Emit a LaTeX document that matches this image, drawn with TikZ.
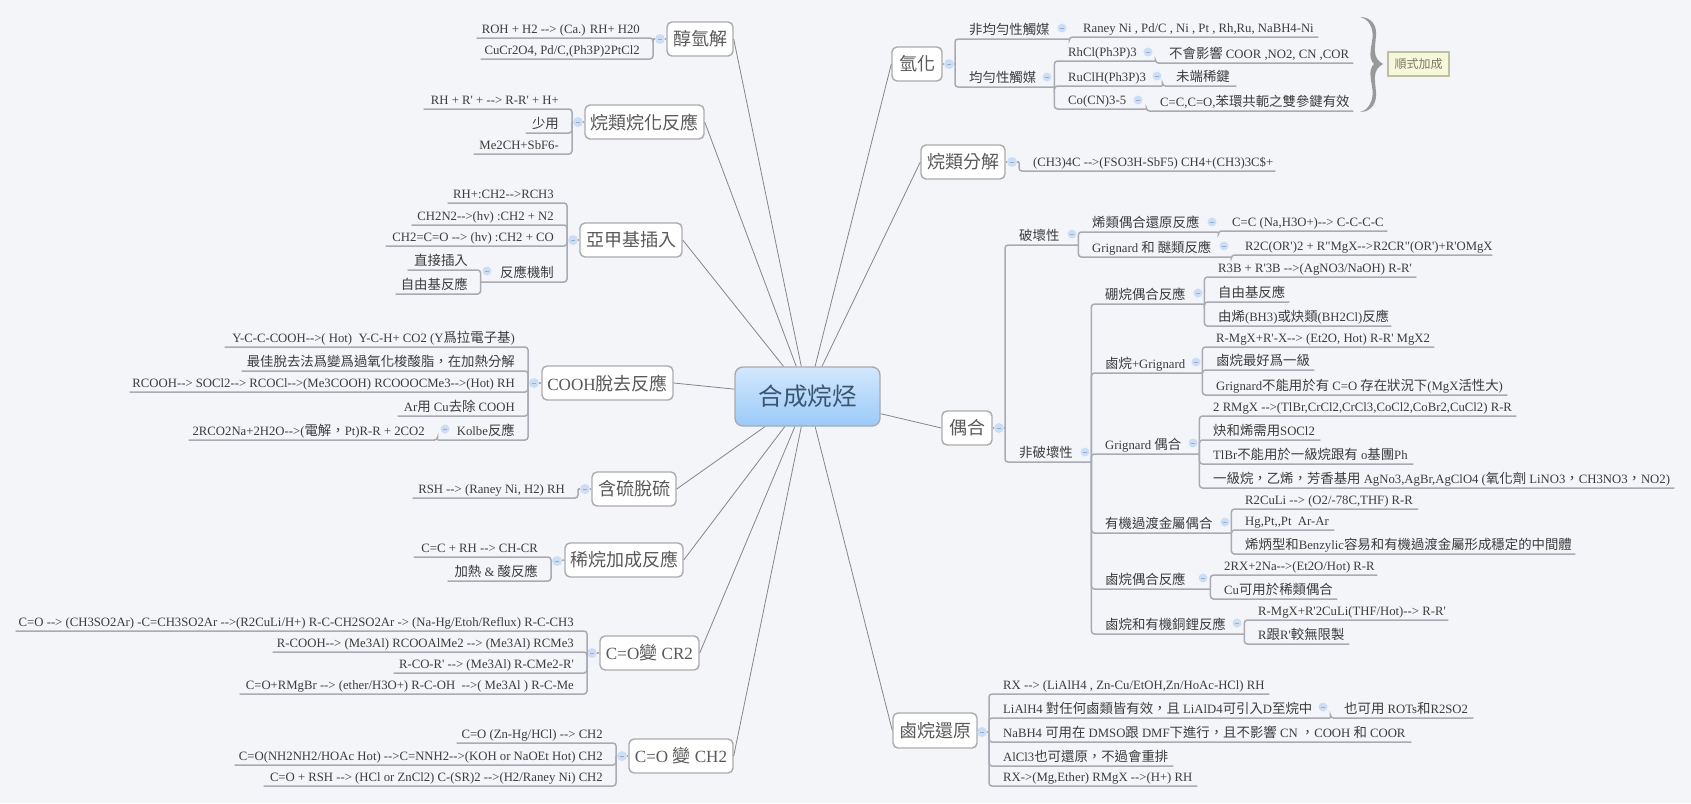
\documentclass[tikz,border=0pt]{standalone}
\usepackage{fontspec}
\newfontfamily\lat[Scale=0.95]{Liberation Serif}
\newfontfamily\cjk{Noto Sans CJK TC}
\newcommand\zh[1]{{\cjk #1}}
\definecolor{bg}{HTML}{F3F5F9}
\definecolor{ulc}{HTML}{A9AAB2}
\definecolor{spk}{HTML}{85868C}
\definecolor{txt}{HTML}{3C3C3C}
\definecolor{dot}{HTML}{CBDEF5}
\definecolor{dashc}{HTML}{8FB0D8}
\definecolor{bdr}{HTML}{ABABAB}
\definecolor{roottop}{HTML}{D3E8FD}
\definecolor{rootbot}{HTML}{9ACAF8}
\definecolor{roottxt}{HTML}{3A5670}
\definecolor{notebd}{HTML}{BFC09C}
\definecolor{notefl}{HTML}{F7F7DC}
\definecolor{notetx}{HTML}{7A7A60}
\tikzset{
  ul/.style={draw=ulc,line width=1.5pt,rounded corners=3pt},
  spoke/.style={draw=spk,line width=0.8pt},
  leafn/.style={inner sep=0pt,text height=11pt,text depth=4.4pt,text=txt,font=\lat\fontsize{13.4}{15}\selectfont},
  topicn/.style={rectangle,rounded corners=5pt,draw=bdr,line width=1.4pt,fill=white,inner sep=0pt,text=txt!85,font=\lat\fontsize{18}{20}\selectfont},
  rootn/.style={rectangle,rounded corners=8pt,draw=bdr,line width=1.4pt,top color=roottop,bottom color=rootbot,inner sep=0pt,text=roottxt,font=\lat\fontsize{24.5}{28}\selectfont},
  notech/.style={rectangle,draw=notebd,line width=1.4pt,fill=notefl,inner sep=0pt,text=notetx,font=\lat\fontsize{12}{14}\selectfont},
  dotn/.style={circle,fill=dot,draw=none,inner sep=0pt,minimum size=10pt,
    path picture={\draw[dashc,line width=0.8pt] ([xshift=-2pt]path picture bounding box.center) -- ([xshift=2pt]path picture bounding box.center);}},
  subdot/.style={dotn,minimum size=9pt},
}
% right-going leaf: name, x0, x1, y of the underline, text
\newcommand\rleaf[5]{\pgfmathsetmacro\wdx{#3-#2}\node[leafn,anchor=south west] (#1) at (#2,#4) {\makebox[\wdx pt][l]{\hspace{14pt}#5}};}
% left-going leaf
\newcommand\lleaf[5]{\pgfmathsetmacro\wdx{#3-#2}\node[leafn,anchor=south east] (#1) at (#3,#4) {\makebox[\wdx pt][r]{#5\hspace{13pt}}};}
\newcommand\rlink[2]{\draw[ul] (#1.south east) -- (#2 |- #1.south west) -- (#2);}
\newcommand\llink[2]{\draw[ul] (#1.south west) -- (#2 |- #1.south east) -- (#2);}
\newcommand\topic[6]{\pgfmathsetmacro\wdx{#3-#2}\pgfmathsetmacro\htx{#5-#4}\node[topicn,minimum width=\wdx pt,minimum height=\htx pt] (#1) at ({(#2+#3)/2},{(#4+#5)/2}) {#6};}
\begin{document}
\begin{tikzpicture}[x=1pt,y=-1pt]
\fill[bg] (0,0) rectangle (1691,803);
\useasboundingbox (0,0) rectangle (1691,803);

\node[rootn,minimum width=145pt,minimum height=59pt] (root) at (807.5,396.5) {\zh{合成烷烃}};

% ---------- topics
\topic{t1}{667}{733}{22}{56}{\zh{醇氫解}}
\topic{t2}{585}{704}{105}{139}{\zh{烷類烷化反應}}
\topic{t3}{580}{682}{223}{257}{\zh{亞甲基插入}}
\topic{t4}{542}{673}{366}{400}{COOH\zh{脫去反應}}
\topic{t5}{592}{676}{472}{506}{\zh{含硫脫硫}}
\topic{t6}{565}{683}{543}{577}{\zh{稀烷加成反應}}
\topic{t7}{600}{699}{636}{670}{C=O\zh{變} CR2}
\topic{t8}{629}{733}{739}{773}{C=O \zh{變} CH2}
\topic{t9}{892}{942}{47}{81}{\zh{氫化}}
\topic{t10}{921}{1005}{145}{179}{\zh{烷類分解}}
\topic{t11}{942}{992}{411}{445}{\zh{偶合}}
\topic{t12}{893}{977}{713}{748}{\zh{鹵烷還原}}

% ---------- spokes
\draw[spoke] (root) -- (t1.east);
\draw[spoke] (root) -- (t2.east);
\draw[spoke] (root) -- (t3.east);
\draw[spoke] (root) -- (t4.east);
\draw[spoke] (root) -- (t5.east);
\draw[spoke] (root) -- (t6.east);
\draw[spoke] (root) -- (t7.east);
\draw[spoke] (root) -- (t8.east);
\draw[spoke] (root) -- (t9.west);
\draw[spoke] (root) -- (t10.west);
\draw[spoke] (root) -- (t11.west);
\draw[spoke] (root) -- (t12.west);

% ---------- junction points and collapse dots of the topics
\node[dotn] (d1) at (660,39) {};   \coordinate (s1) at (653,39);
\node[dotn] (d2) at (578,122) {};  \coordinate (s2) at (572,122);
\node[dotn] (d3) at (573,240) {};  \coordinate (s3) at (567,240);
\node[dotn] (d4) at (534,383) {};  \coordinate (s4) at (528,383);
\node[dotn] (d5) at (585,489) {};  \coordinate (s5) at (578,489);
\node[dotn] (d6) at (557,561) {};  \coordinate (s6) at (551,561);
\node[dotn] (d7) at (592,653) {};  \coordinate (s7) at (587,653);
\node[dotn] (d8) at (622,756) {};  \coordinate (s8) at (616,756);
\node[dotn] (d9) at (949,64) {};   \coordinate (s9) at (955,64);
\node[dotn] (d10) at (1012,162) {};\coordinate (s10) at (1019,162);
\node[dotn] (d11) at (999,428) {}; \coordinate (s11) at (1005,428);
\node[dotn] (d12) at (982,732) {}; \coordinate (s12) at (989,732);
\draw[ul] (t1.west) -- (d1) -- (s1);
\draw[ul] (t2.west) -- (d2) -- (s2);
\draw[ul] (t3.west) -- (d3) -- (s3);
\draw[ul] (t4.west) -- (d4) -- (s4);
\draw[ul] (t5.west) -- (d5) -- (s5);
\draw[ul] (t6.west) -- (d6) -- (s6);
\draw[ul] (t7.west) -- (d7) -- (s7);
\draw[ul] (t8.west) -- (d8) -- (s8);
\draw[ul] (t9.east) -- (d9) -- (s9);
\draw[ul] (t10.east) -- (d10) -- (s10);
\draw[ul] (t11.east) -- (d11) -- (s11);
\draw[ul] (t12.east) -- (d12) -- (s12);

% ---------- left side
\lleaf{a1}{477}{653}{38}{ROH + H2 --> (Ca.) RH+ H20}\llink{a1}{s1}
\lleaf{a2}{481}{653}{59}{CuCr2O4, Pd/C,(Ph3P)2PtCl2}\llink{a2}{s1}

\lleaf{b1}{424}{572}{109}{RH + R' + --> R-R' + H+}\llink{b1}{s2}
\lleaf{b2}{526}{572}{133}{\zh{少用}}\llink{b2}{s2}
\lleaf{b3}{474}{572}{154}{Me2CH+SbF6-}\llink{b3}{s2}

\lleaf{c1}{448}{567}{203}{RH+:CH2-->RCH3}\llink{c1}{s3}
\lleaf{c2}{412}{567}{225}{CH2N2-->(hv) :CH2 + N2}\llink{c2}{s3}
\lleaf{c3}{386}{567}{246}{CH2=C=O --> (hv) :CH2 + CO}\llink{c3}{s3}
\lleaf{c4}{481}{567}{282}{\zh{反應機制}}\llink{c4}{s3}
\node[subdot] (dc4) at (487,271) {};
\lleaf{c5}{408}{481}{270}{\zh{直接插入}}\llink{c5}{c4.south west}
\lleaf{c6}{396}{481}{294}{\zh{自由基反應}}\llink{c6}{c4.south west}

\lleaf{e1}{225}{528}{347}{Y-C-C-COOH-->( Hot)\ \ Y-C-H+ CO2 (Y\zh{爲拉電子基})}\llink{e1}{s4}
\lleaf{e2}{242}{528}{371}{\zh{最佳脫去法爲變爲過氧化梭酸脂，在加熱分解}}\llink{e2}{s4}
\lleaf{e3}{130}{528}{392}{RCOOH--> SOCl2--> RCOCl-->(Me3COOH) RCOOOCMe3-->(Hot) RH}\llink{e3}{s4}
\lleaf{e4}{398}{528}{416}{Ar\zh{用} Cu\zh{去除} COOH}\llink{e4}{s4}
\lleaf{e5}{438}{528}{440}{Kolbe\zh{反應}}\llink{e5}{s4}
\node[subdot] (de5) at (445,429) {};
\lleaf{e6}{189}{438}{440}{2RCO2Na+2H2O-->(\zh{電解，}Pt)R-R + 2CO2}\llink{e6}{e5.south west}

\lleaf{f1}{413}{578}{498}{RSH --> (Raney Ni, H2) RH}\llink{f1}{s5}

\lleaf{g1}{414}{551}{557}{C=C + RH --> CH-CR}\llink{g1}{s6}
\lleaf{g2}{448}{551}{581}{\zh{加熱} \& \zh{酸反應}}\llink{g2}{s6}

\lleaf{h1}{16}{587}{631}{C=O --> (CH3SO2Ar) -C=CH3SO2Ar -->(R2CuLi/H+) R-C-CH2SO2Ar -> (Na-Hg/Etoh/Reflux) R-C-CH3}\llink{h1}{s7}
\lleaf{h2}{273}{587}{652}{R-COOH--> (Me3Al) RCOOAlMe2 --> (Me3Al) RCMe3}\llink{h2}{s7}
\lleaf{h3}{394}{587}{673}{R-CO-R' --> (Me3Al) R-CMe2-R'}\llink{h3}{s7}
\lleaf{h4}{240}{587}{694}{C=O+RMgBr --> (ether/H3O+) R-C-OH\ \ -->( Me3Al ) R-C-Me}\llink{h4}{s7}

\lleaf{i1}{457}{616}{743}{C=O (Zn-Hg/HCl) --> CH2}\llink{i1}{s8}
\lleaf{i2}{235}{616}{765}{C=O(NH2NH2/HOAc Hot) -->C=NNH2-->(KOH or NaOEt Hot) CH2}\llink{i2}{s8}
\lleaf{i3}{264}{616}{786}{C=O + RSH --> (HCl or ZnCl2) C-(SR)2 -->(H2/Raney Ni) CH2}\llink{i3}{s8}

% ---------- hydrogenation
\rleaf{j1}{955}{1069}{39}{\zh{非均勻性觸媒}}\rlink{j1}{s9}
\node[subdot] (dj1) at (1062,28) {};
\rleaf{j2}{1069}{1318}{37}{Raney Ni , Pd/C , Ni , Pt , Rh,Ru, NaBH4-Ni}\rlink{j2}{j1.south east}
\rleaf{k0}{955}{1054}{87}{\zh{均勻性觸媒}}\rlink{k0}{s9}
\node[subdot] (dk0) at (1047,77) {};
\rleaf{k1}{1054}{1155}{61}{RhCl(Ph3P)3}\rlink{k1}{k0.south east}
\node[subdot] (dk1) at (1148,52) {};
\rleaf{k2}{1155}{1353}{63}{\zh{不會影響} COOR ,NO2, CN ,COR}\rlink{k2}{k1.south east}
\rleaf{k3}{1054}{1162}{86}{RuClH(Ph3P)3}\rlink{k3}{k0.south east}
\node[subdot] (dk3) at (1157,76) {};
\rleaf{k4}{1162}{1236}{86}{\zh{未端稀鍵}}\rlink{k4}{k3.south east}
\rleaf{k5}{1054}{1146}{109}{Co(CN)3-5}\rlink{k5}{k0.south east}
\node[subdot] (dk5) at (1138,100) {};
\rleaf{k6}{1146}{1353}{111}{C=C,C=O,\zh{苯環共軛之雙參鍵有效}}\rlink{k6}{k5.south east}

% brace and callout
\fill[gray!80] (1360,17) .. controls (1372,17) and (1377,26) .. (1376,36)
  .. controls (1375,48) and (1372,58) .. (1383,64)
  .. controls (1372,70) and (1375,80) .. (1376,92)
  .. controls (1377,102) and (1372,112) .. (1360,112)
  .. controls (1369,110) and (1373.5,100) .. (1372.5,90)
  .. controls (1371,78) and (1368,70) .. (1374,64)
  .. controls (1368,58) and (1371,50) .. (1372.5,38)
  .. controls (1373.5,28) and (1369,19) .. (1360,17) -- cycle;
\node[notech,minimum width=61pt,minimum height=24pt] (note) at (1418.5,64) {\zh{順式加成}};

% ---------- cracking
\rleaf{l1}{1019}{1275}{171}{(CH3)4C -->(FSO3H-SbF5) CH4+(CH3)3C\$+}\rlink{l1}{s10}

% ---------- coupling
\rleaf{m0}{1005}{1078}{245}{\zh{破壞性}}\rlink{m0}{s11}
\node[subdot] (dm0) at (1072,234) {};
\rleaf{m1}{1078}{1218}{232}{\zh{烯類偶合還原反應}}\rlink{m1}{m0.south east}
\node[subdot] (dm1) at (1212,222) {};
\rleaf{m2}{1218}{1387}{231}{C=C (Na,H3O+)--> C-C-C-C}\rlink{m2}{m1.south east}
\rleaf{m3}{1078}{1231}{257}{Grignard \zh{和 醚類反應}}\rlink{m3}{m0.south east}
\node[subdot] (dm3) at (1224,246) {};
\rleaf{m4}{1231}{1492}{255}{R2C(OR')2 + R"MgX-->R2CR"(OR')+R'OMgX}\rlink{m4}{m3.south east}

\rleaf{n0}{1005}{1091}{462}{\zh{非破壞性}}\rlink{n0}{s11}
\node[subdot] (dn0) at (1085,452) {};

\rleaf{o0}{1091}{1204}{304}{\zh{硼烷偶合反應}}\rlink{o0}{n0.south east}
\node[subdot] (do0) at (1198,293) {};
\rleaf{o1}{1204}{1416}{277}{R3B + R'3B -->(AgNO3/NaOH) R-R'}\rlink{o1}{o0.south east}
\rleaf{o2}{1204}{1289}{302}{\zh{自由基反應}}\rlink{o2}{o0.south east}
\rleaf{o3}{1204}{1391}{326}{\zh{由烯}(BH3)\zh{或炔類}(BH2Cl)\zh{反應}}\rlink{o3}{o0.south east}

\rleaf{p0}{1091}{1202}{373}{\zh{鹵烷}+Grignard}\rlink{p0}{n0.south east}
\node[subdot] (dp0) at (1196,362) {};
\rleaf{p1}{1202}{1434}{347}{R-MgX+R'-X--> (Et2O, Hot) R-R' MgX2}\rlink{p1}{p0.south east}
\rleaf{p2}{1202}{1314}{370}{\zh{鹵烷最好爲一級}}\rlink{p2}{p0.south east}
\rleaf{p3}{1202}{1507}{395}{Grignard\zh{不能用於有} C=O \zh{存在狀況下}(MgX\zh{活性大})}\rlink{p3}{p0.south east}

\rleaf{q0}{1091}{1199}{454}{Grignard \zh{偶合}}\rlink{q0}{n0.south east}
\node[subdot] (dq0) at (1193,443) {};
\rleaf{q1}{1199}{1516}{416}{2 RMgX -->(TlBr,CrCl2,CrCl3,CoCl2,CoBr2,CuCl2) R-R}\rlink{q1}{q0.south east}
\rleaf{q2}{1199}{1320}{440}{\zh{炔和烯需用}SOCl2}\rlink{q2}{q0.south east}
\rleaf{q3}{1199}{1413}{464}{TlBr\zh{不能用於一級烷跟有} o\zh{基團}Ph}\rlink{q3}{q0.south east}
\rleaf{q4}{1199}{1674}{488}{\zh{一級烷，乙烯，芳香基用} AgNo3,AgBr,AgClO4 (\zh{氧化劑} LiNO3\zh{，}CH3NO3\zh{，}NO2)}\rlink{q4}{q0.south east}

\rleaf{r0}{1091}{1231}{533}{\zh{有機過渡金屬偶合}}\rlink{r0}{n0.south east}
\node[subdot] (dr0) at (1225,522) {};
\rleaf{r1}{1231}{1418}{509}{R2CuLi --> (O2/-78C,THF) R-R}\rlink{r1}{r0.south east}
\rleaf{r2}{1231}{1334}{530}{Hg,Pt,,Pt\ \ Ar-Ar}\rlink{r2}{r0.south east}
\rleaf{r3}{1231}{1575}{554}{\zh{烯炳型和}Benzylic\zh{容易和有機過渡金屬形成穩定的中間體}}\rlink{r3}{r0.south east}

\rleaf{u0}{1091}{1210}{589}{\zh{鹵烷偶合反應}}\rlink{u0}{n0.south east}
\node[subdot] (du0) at (1203,578) {};
\rleaf{u1}{1210}{1377}{575}{2RX+2Na-->(Et2O/Hot) R-R}\rlink{u1}{u0.south east}
\rleaf{u2}{1210}{1337}{599}{Cu\zh{可用於稀類偶合}}\rlink{u2}{u0.south east}

\rleaf{v0}{1091}{1244}{634}{\zh{鹵烷和有機銅鋰反應}}\rlink{v0}{n0.south east}
\node[subdot] (dv0) at (1237,623) {};
\rleaf{v1}{1244}{1448}{620}{R-MgX+R'2CuLi(THF/Hot)--> R-R'}\rlink{v1}{v0.south east}
\rleaf{v2}{1244}{1349}{644}{R\zh{跟}R'\zh{較無限製}}\rlink{v2}{v0.south east}

% ---------- reduction
\rleaf{w1}{989}{1269}{694}{RX --> (LiAlH4 , Zn-Cu/EtOH,Zn/HoAc-HCl) RH}\rlink{w1}{s12}
\rleaf{w2}{989}{1330}{718}{LiAlH4 \zh{對任何鹵類皆有效，且} LiAlD4\zh{可引入}D\zh{至烷中}}\rlink{w2}{s12}
\node[subdot] (dw2) at (1323,707) {};
\rleaf{w3}{1330}{1473}{718}{\zh{也可用} ROTs\zh{和}R2SO2}\rlink{w3}{w2.south east}
\rleaf{w4}{989}{1411}{742}{NaBH4 \zh{可用在} DMSO\zh{跟} DMF\zh{下進行，且不影響} CN \zh{，}COOH \zh{和} COOR}\rlink{w4}{s12}
\rleaf{w5}{989}{1173}{766}{AlCl3\zh{也可還原，不過會重排}}\rlink{w5}{s12}
\rleaf{w6}{989}{1197}{786}{RX->(Mg,Ether) RMgX -->(H+) RH}\rlink{w6}{s12}
\end{tikzpicture}
\end{document}
